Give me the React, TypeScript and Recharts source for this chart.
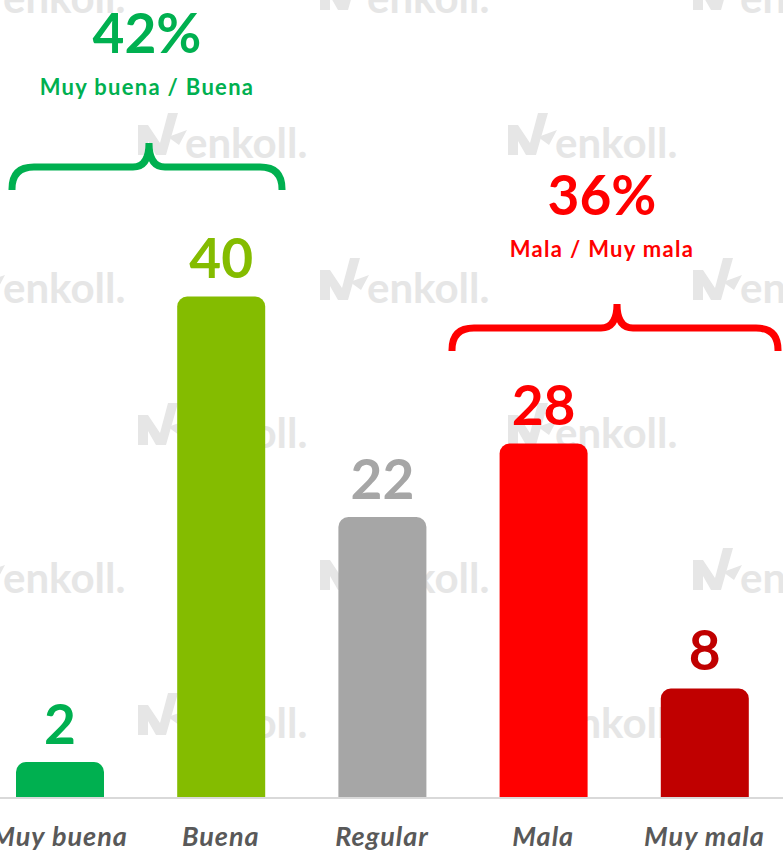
import React from 'react'
import { BarChart, Bar, XAxis, YAxis, Cell, LabelList } from 'recharts'

// ── Data ───────────────────────────────────────────────────────────
const CATEGORIES = ['Muy buena', 'Buena', 'Regular', 'Mala', 'Muy mala']
const VALUES = [2, 40, 22, 28, 8]
const BAR_COLORS = ['#00B050', '#84BC00', '#A6A6A6', '#FF0000', '#C00000']

const GROUP_PCTS = ['42%', '36%']
const GROUP_LABELS = ['Muy buena / Buena', 'Mala / Muy mala']
const GROUP_COLORS = ['#00B050', '#FF0000']

// bars in the source start a little below zero
const Y_FLOOR = -0.94
const Y_CEIL = 64.2

const data = CATEGORIES.map((name, i) => ({ name, value: VALUES[i] }))

const FONT = "Lato, 'Open Sans', sans-serif"
const WM = '#E6E6E6'

// ── Ticks / labels ─────────────────────────────────────────────────

function CategoryTick(props: any) {
  const { x, y, payload } = props
  return (
    <text
      x={x}
      y={y + 48}
      textAnchor="middle"
      fill="#595959"
      fontFamily={FONT}
      fontWeight={700}
      fontStyle="italic"
      fontSize={27}
      letterSpacing={1}
    >
      {payload.value}
    </text>
  )
}

function ValueLabel(props: any) {
  const { x, y, width, value } = props
  const i = props.index ?? VALUES.indexOf(Number(value))
  return (
    <text
      x={Number(x) + Number(width) / 2}
      y={Number(y) - 18}
      textAnchor="middle"
      fill={BAR_COLORS[i]}
      fontFamily={FONT}
      fontWeight={700}
      fontSize={55}
    >
      {value}
    </text>
  )
}

// ── Annotations (brackets + group totals) ─────────────────────────

function bracketPath(x1: number, x2: number, xt: number, yH: number) {
  const r = 22
  const rt = 16
  const yTip = yH - 24
  const yEnd = yH + 23
  return [
    `M ${x1} ${yEnd}`,
    `L ${x1} ${yH + r}`,
    `Q ${x1} ${yH} ${x1 + r} ${yH}`,
    `L ${xt - rt} ${yH}`,
    `Q ${xt} ${yH} ${xt} ${yTip}`,
    `Q ${xt} ${yH} ${xt + rt} ${yH}`,
    `L ${x2 - r} ${yH}`,
    `Q ${x2} ${yH} ${x2} ${yH + r}`,
    `L ${x2} ${yEnd}`,
  ].join(' ')
}

const GROUP_LAYOUT = [
  { cx: 147, pctY: 53, labelY: 95, x1: 12, x2: 282, xt: 149, yH: 167 },
  { cx: 602, pctY: 215, labelY: 257, x1: 452, x2: 778, xt: 617, yH: 328 },
]

function Annotations() {
  return (
    <svg
      width={783}
      height={854}
      style={{ position: 'absolute', left: 0, top: 0, pointerEvents: 'none' }}
    >
      {GROUP_LAYOUT.map((g, i) => (
        <g key={i}>
          <text x={g.cx} y={g.pctY} textAnchor="middle" fill={GROUP_COLORS[i]}
            fontFamily={FONT} fontWeight={700} fontSize={55}>
            {GROUP_PCTS[i]}
          </text>
          <text x={g.cx} y={g.labelY} textAnchor="middle" fill={GROUP_COLORS[i]}
            fontFamily={FONT} fontWeight={700} fontSize={22} letterSpacing={1.3}>
            {GROUP_LABELS[i]}
          </text>
          <path d={bracketPath(g.x1, g.x2, g.xt, g.yH)} fill="none"
            stroke={GROUP_COLORS[i]} strokeWidth={7} />
        </g>
      ))}
    </svg>
  )
}

// ── Watermark ──────────────────────────────────────────────────────

const WM_ROWS = [13, 158, 303, 448, 593, 738]

function Watermark() {
  const items: { x: number; y: number }[] = []
  WM_ROWS.forEach((y, r) => {
    const xs = r % 2 === 0 ? [3, 367, 740] : [185, 555]
    xs.forEach(x => items.push({ x, y }))
  })
  return (
    <svg width={783} height={854} style={{ position: 'absolute', left: 0, top: 0 }}>
      {items.map((it, k) => (
        <g key={k}>
          <g transform={`translate(${it.x - 47}, ${it.y - 45})`} fill={WM}>
            <path d="M0,12 L10,12 L22,30 L30,0 L40,0 L28,42 L18,42 L10,28 L10,42 L0,42 Z" />
            <path d="M30,24 L49,17 L41,32 Z" />
          </g>
          <text x={it.x} y={it.y} fill={WM} fontFamily={FONT} fontWeight={700}
            fontSize={42}>enkoll.</text>
        </g>
      ))}
    </svg>
  )
}

// ── App ────────────────────────────────────────────────────────────

export default function App() {
  return (
    <div
      style={{
        position: 'absolute', left: 0, top: 0, width: 783, height: 854,
        overflow: 'hidden', background: '#FFFFFF',
      }}
    >
      <Watermark />
      <div style={{ position: 'absolute', left: -21, top: 0 }}>
        <BarChart
          width={806}
          height={854}
          data={data}
          margin={{ top: 0, right: 0, bottom: 0, left: 0 }}
        >
          <XAxis
            dataKey="name"
            height={56}
            interval={0}
            tickLine={false}
            tickSize={0}
            tickMargin={0}
            axisLine={{ stroke: '#D9D9D9', strokeWidth: 2 }}
            tick={<CategoryTick />}
          />
          <YAxis hide type="number" domain={[Y_FLOOR, Y_CEIL]} allowDataOverflow />
          <Bar
            dataKey={(d: any) => [Y_FLOOR, d.value]}
            barSize={88}
            radius={[10, 10, 0, 0]}
            isAnimationActive={false}
          >
            {data.map((d, i) => (
              <Cell key={d.name} fill={BAR_COLORS[i]} />
            ))}
            <LabelList dataKey="value" content={<ValueLabel />} />
          </Bar>
        </BarChart>
      </div>
      <Annotations />
    </div>
  )
}
